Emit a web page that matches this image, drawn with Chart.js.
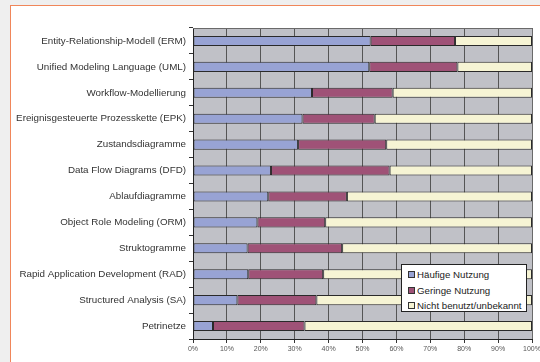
<!DOCTYPE html>
<html>
<head>
<meta charset="utf-8">
<script src="https://cdn.jsdelivr.net/npm/chart.js@4"></script>
<style>
  body { margin: 0; background: #efefef; font-family: "Liberation Sans", Arial, sans-serif; }
  #frame { position: absolute; left: 10px; top: 5px; width: 540px; height: 370px; background: #fff;
           border-left: 1px solid #f0865a; border-top: 1px solid #f0865a; }
  #wrap { position: absolute; left: 0; top: 0; width: 540px; height: 362px; }
  #legend { position: absolute; left: 401px; top: 264px; width: 126px; height: 48px; background: #fff;
            border: 1px solid #222; font-size: 9.7px; color: #222; padding-top: 2px; box-sizing: border-box; }
  #legend div { height: 15.5px; line-height: 15.5px; padding-left: 6px; white-space: nowrap; }
  #legend span { display: inline-block; width: 5px; height: 5px; border: 1px solid #333; margin-right: 2px; vertical-align: 0px; }
</style>
</head>
<body>
<div id="frame"></div>
<div id="wrap"><canvas id="myChart" width="540" height="362"></canvas></div>
<div id="legend"></div>
<script>
// categories (top to bottom)
const methods = [
  'Entity-Relationship-Modell (ERM)',
  'Unified Modeling Language (UML)',
  'Workflow-Modellierung',
  'Ereignisgesteuerte Prozesskette (EPK)',
  'Zustandsdiagramme',
  'Data Flow Diagrams (DFD)',
  'Ablaufdiagramme',
  'Object Role Modeling (ORM)',
  'Struktogramme',
  'Rapid Application Development (RAD)',
  'Structured Analysis (SA)',
  'Petrinetze'
];

// shares in percent
const haeufig = [52.4, 52.0, 35.1, 32.3, 31.0, 23.0, 22.2, 19.0, 16.1, 16.3, 13.1, 5.9];
const gering  = [24.9, 26.0, 23.8, 21.3, 26.0, 35.0, 23.2, 20.0, 27.9, 22.1, 23.3, 27.0];
const nicht   = [22.7, 22.0, 41.1, 46.4, 43.0, 42.0, 54.6, 61.0, 56.0, 61.6, 63.6, 67.1];

const seriesNames = ['Häufige Nutzung', 'Geringe Nutzung', 'Nicht benutzt/unbekannt'];
const seriesColors = ['#98a3d4', '#9f5277', '#f6f4d4'];

const xTicks = [0, 10, 20, 30, 40, 50, 60, 70, 80, 90, 100];

//grey plot area + border
const plotBg = {
  id: 'plotBg',
  beforeDraw(chart) {
    const a = chart.chartArea, ctx = chart.ctx;
    ctx.save();
    ctx.fillStyle = '#c0c1c7';
    ctx.fillRect(a.left, a.top, a.right - a.left, a.bottom - a.top);
    ctx.restore();
  },
  afterDraw(chart) {
    const a = chart.chartArea, ctx = chart.ctx;
    ctx.save();
    ctx.strokeStyle = '#6a6a6a';
    ctx.lineWidth = 1;
    ctx.beginPath();
    ctx.moveTo(a.left, a.top + 0.5);
    ctx.lineTo(a.right + 0.5, a.top + 0.5);
    ctx.lineTo(a.right + 0.5, a.bottom);
    ctx.stroke();
    ctx.restore();
  }
};

const mkSet = (i, data) => ({
  label: seriesNames[i],
  data: data,
  backgroundColor: seriesColors[i],
  borderColor: '#2a2a2a',
  borderWidth: 1,
  borderSkipped: false,
  categoryPercentage: 1,
  barPercentage: 0.39
});

const config = {
  type: 'bar',
  data: {
    labels: methods,
    datasets: [mkSet(0, haeufig), mkSet(1, gering), mkSet(2, nicht)]
  },
  options: {
    indexAxis: 'y',
    responsive: false,
    animation: false,
    layout: { padding: { left: 0, right: 8, top: 28, bottom: 0 } },
    plugins: {
      legend: { display: false },
      tooltip: { enabled: false }
    },
    scales: {
      x: {
        stacked: true,
        min: 0, max: 100,
        afterBuildTicks: s => { s.ticks = xTicks.map(v => ({ value: v })); },
        afterFit: s => { s.height = 23; s.paddingLeft = 0; s.paddingRight = 0; },
        ticks: {
          callback: v => v + '%',
          font: { family: 'Liberation Sans', size: 7 },
          color: '#555',
          padding: 2,
          maxRotation: 0
        },
        grid: { color: '#555', lineWidth: 1, tickLength: 4, tickColor: '#333' },
        border: { color: '#222', width: 1 }
      },
      y: {
        stacked: true,
        afterFit: s => { s.width = 193; },
        ticks: {
          font: { family: 'Liberation Sans', size: 9.8 },
          color: '#333',
          padding: 3
        },
        grid: { offset: true, drawOnChartArea: false, tickLength: 4, tickColor: '#333' },
        border: { color: '#222', width: 1 }
      }
    }
  },
  plugins: [plotBg]
};

let myChart = new Chart(document.getElementById('myChart'), config);

//legend box inside the plot
const lg = document.getElementById('legend');
seriesNames.forEach((n, i) => {
  const row = document.createElement('div');
  const sw = document.createElement('span');
  sw.style.background = seriesColors[i];
  row.appendChild(sw);
  row.appendChild(document.createTextNode(n));
  lg.appendChild(row);
});
</script>
</body>
</html>
